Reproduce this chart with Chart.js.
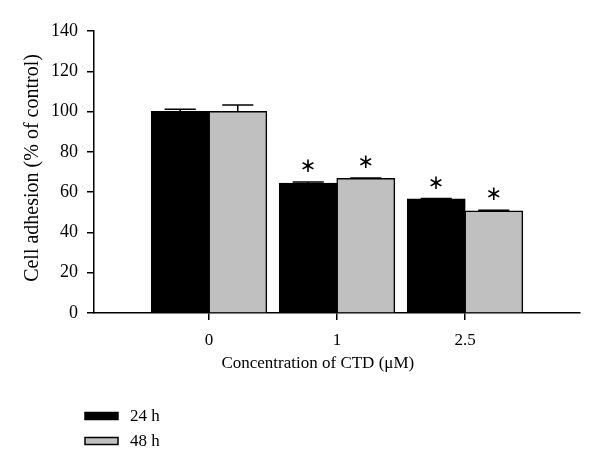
<!DOCTYPE html>
<html>
<head>
<meta charset="utf-8">
<script src="https://cdn.jsdelivr.net/npm/chart.js@4.4.1/dist/chart.umd.min.js"></script>
<style>
html,body{margin:0;padding:0;background:#fff;}
#wrap{width:600px;height:472px;position:relative;}
</style>
</head>
<body>
<div id="wrap"><canvas id="c" width="600" height="472"></canvas></div>
<script>
const categories = ['0', '1', '2.5'];
const seriesLabels = ['24 h', '48 h'];
const values24 = [100, 64.4, 56.6];
const values48 = [100, 66.7, 50.6];
const errors24 = [1.2, 0.6, 0.3];
const errors48 = [3.3, 0.3, 0.4];
const stars24 = ['', '\u2217', '\u2217'];
const stars48 = ['', '\u2217', '\u2217'];
const yTicks = [0, 20, 40, 60, 80, 100, 120, 140];
const xTitle = 'Concentration of CTD (\u03bcM)';
const yTitle = 'Cell adhesion (% of control)';

const FONT = '"Liberation Serif", "Times New Roman", serif';

function toPoints(vals) { return vals.map((v, i) => ({ x: i, y: v })); }

const extrasPlugin = {
  id: 'extras',
  afterDatasetsDraw(chart) {
    const ctx = chart.ctx;
    const ys = chart.scales.y;
    chart.data.datasets.forEach((ds, di) => {
      const meta = chart.getDatasetMeta(di);
      meta.data.forEach((bar, i) => {
        const top = ys.getPixelForValue(ds.data[i].y + ds.errors[i]);
        const half = bar.width * 0.27;
        ctx.save();
        ctx.strokeStyle = '#000';
        ctx.lineWidth = 1.5;
        ctx.beginPath();
        ctx.moveTo(bar.x, bar.y);
        ctx.lineTo(bar.x, top);
        ctx.moveTo(bar.x - half, top);
        ctx.lineTo(bar.x + half, top);
        ctx.stroke();
        if (ds.stars[i]) {
          ctx.fillStyle = '#000';
          ctx.font = '20px "DejaVu Sans", sans-serif';
          ctx.textAlign = 'center';
          ctx.textBaseline = 'middle';
          ctx.fillText(ds.stars[i], bar.x, top - 15);
        }
        ctx.restore();
      });
    });
  },
  afterDraw(chart) {
    const ctx = chart.ctx;
    const xs = chart.scales.x;
    const area = chart.chartArea;
    ctx.save();
    ctx.fillStyle = '#000';
    ctx.font = '17px ' + FONT;
    ctx.textAlign = 'center';
    ctx.textBaseline = 'alphabetic';
    ctx.fillText(xTitle, xs.getPixelForValue(0.85), 368);
    ctx.save();
    ctx.font = '20px ' + FONT;
    ctx.translate(38, (area.top + area.bottom) / 2 - 4);
    ctx.rotate(-Math.PI / 2);
    ctx.fillText(yTitle, 0, 0);
    ctx.restore();
    ctx.font = '17px ' + FONT;
    chart.data.datasets.forEach((ds, di) => {
      const cy = 416 + di * 25;
      ctx.fillStyle = ds.backgroundColor;
      ctx.fillRect(85, cy - 3.5, 33, 7);
      ctx.strokeStyle = '#000';
      ctx.lineWidth = 1.5;
      ctx.strokeRect(85, cy - 3.5, 33, 7);
      ctx.fillStyle = '#000';
      ctx.textAlign = 'left';
      ctx.textBaseline = 'middle';
      ctx.fillText(ds.label, 130, cy + 1);
    });
    ctx.restore();
  }
};

new Chart(document.getElementById('c'), {
  type: 'bar',
  data: {
    datasets: [
      { label: seriesLabels[0], data: toPoints(values24), errors: errors24, stars: stars24,
        backgroundColor: '#000000', borderColor: '#000000', borderWidth: 1.5, inflateAmount: 0.6 },
      { label: seriesLabels[1], data: toPoints(values48), errors: errors48, stars: stars48,
        backgroundColor: '#c0c0c0', borderColor: '#000000', borderWidth: 1.5, inflateAmount: 0.6 }
    ]
  },
  options: {
    responsive: false,
    animation: false,
    devicePixelRatio: 1,
    layout: { padding: { top: 31, right: 20, left: 0, bottom: 0 } },
    datasets: { bar: { categoryPercentage: 0.9, barPercentage: 1.0, grouped: true } },
    plugins: { legend: { display: false }, tooltip: { enabled: false } },
    scales: {
      x: {
        type: 'linear',
        min: -115 / 128,
        max: 2 + 115 / 128,
        offset: false,
        afterBuildTicks(s) { s.ticks = categories.map((_, i) => ({ value: i })); },
        afterFit(s) { s.height = 159; },
        grid: { display: true, offset: false, drawOnChartArea: false, drawTicks: true, tickLength: 7, color: '#000', lineWidth: 1.5 },
        border: { display: true, color: '#000', width: 1.5 },
        ticks: {
          autoSkip: false, maxRotation: 0, padding: 10, color: '#000',
          font: { family: FONT, size: 17 },
          callback: (v) => categories[v] !== undefined ? categories[v] : ''
        }
      },
      y: {
        min: 0, max: 140,
        afterBuildTicks(s) { s.ticks = yTicks.map(v => ({ value: v })); },
        afterFit(s) { s.width = 94; },
        grid: { display: true, drawOnChartArea: false, drawTicks: true, tickLength: 7, color: '#000', lineWidth: 1.5 },
        border: { display: true, color: '#000', width: 1.5 },
        ticks: { padding: 9, color: '#000', font: { family: FONT, size: 18 } }
      }
    }
  },
  plugins: [extrasPlugin]
});
</script>
</body>
</html>
